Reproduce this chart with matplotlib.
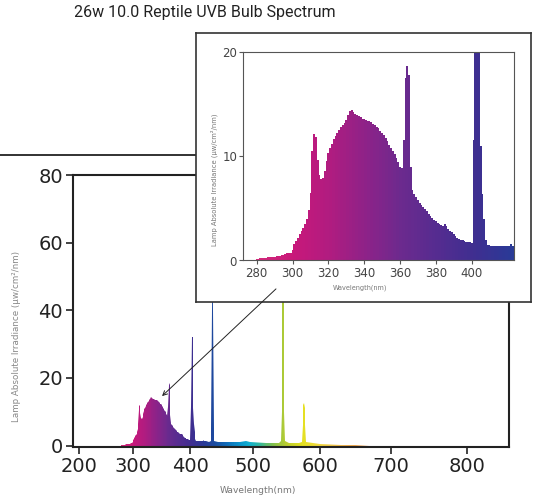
import numpy as np
import matplotlib
matplotlib.use("Agg")
import matplotlib.pyplot as plt
from matplotlib.colors import LinearSegmentedColormap, Normalize
from matplotlib.patches import FancyArrowPatch
from matplotlib.lines import Line2D

# ---------------- data ----------------
title = "26w 10.0 Reptile UVB Bulb Spectrum"
ylabel = "Lamp Absolute Irradiance (\u03bcw/cm\u00b2/nm)"
xlabel = "Wavelength(nm)"

# UV region, 1 nm resolution
uv_wl = list(range(279, 425))
uv_val = [
    0.05, 0.1, 0.15, 0.2, 0.22, 0.25, 0.27, 0.3, 0.32, 0.34,        # 279-288
    0.36, 0.38, 0.4, 0.42, 0.45, 0.5, 0.55, 0.6, 0.75, 0.7,          # 289-298
    0.75, 1.0, 1.6, 1.9, 2.2, 2.5, 2.8, 3.1, 3.5, 4.0,               # 299-308
    4.8, 6.5, 10.5, 12.1, 11.8, 9.6, 8.2, 7.8, 7.9, 8.6,             # 309-318
    9.5, 10.3, 10.8, 11.2, 11.6, 11.9, 12.2, 12.5, 12.8, 13.0,       # 319-328
    13.2, 13.5, 13.9, 14.3, 14.4, 14.2, 14.0, 13.9, 13.8, 13.7,      # 329-338
    13.6, 13.6, 13.5, 13.4, 13.4, 13.3, 13.1, 13.0, 12.8, 12.7,      # 339-348
    12.4, 12.2, 12.0, 11.7, 11.4, 11.1, 10.8, 10.5, 10.2, 9.8,       # 349-358
    9.4, 9.0, 8.9, 11.5, 17.5, 18.6, 17.8, 9.0, 6.8, 6.4,            # 359-368
    6.1, 5.8, 5.5, 5.3, 5.1, 4.9, 4.7, 4.5, 4.3, 4.1,                # 369-378
    3.9, 3.75, 3.6, 3.5, 3.4, 3.3, 3.5, 3.3, 3.0, 2.85,              # 379-388
    2.7, 2.5, 2.35, 2.2, 2.1, 2.0, 1.95, 1.85, 1.8, 1.75,            # 389-398
    1.75, 1.7, 11.5, 32.0, 32.0, 32.0, 11.0, 6.4, 4.0, 2.0,          # 399-408
    1.5, 1.45, 1.4, 1.4, 1.4, 1.4, 1.4, 1.4, 1.4, 1.4,               # 409-418
    1.4, 1.4, 1.4, 1.6, 1.4, 1.5,                                    # 419-424
]

# visible region
vis_wl = [425, 430, 433, 434, 435, 436, 437, 438, 439, 445, 460, 480, 490, 495,
          520, 540, 543, 544, 545, 546, 547, 548, 549, 555, 570, 574, 575, 576,
          577, 578, 579, 580, 600, 630, 650, 670]
vis_val = [1.4, 1.2, 1.4, 5.0, 40.0, 62.0, 40.0, 5.0, 1.4, 1.1, 1.0, 1.0, 1.3, 1.0,
           0.9, 0.9, 1.4, 10.0, 50.0, 58.0, 50.0, 10.0, 1.4, 0.8, 0.7, 1.2, 6.0, 12.0,
           12.5, 11.0, 6.0, 1.0, 0.5, 0.3, 0.15, 0.0]

main_yticks = [0, 20, 40, 60, 80]
main_xticks = [200, 300, 400, 500, 600, 700, 800]
inset_yticks = [0, 10, 20]
inset_xticks = [280, 300, 320, 340, 360, 380, 400]

# spectral colour stops (wavelength, colour)
stop_wl = [279, 300, 320, 340, 360, 380, 400, 420, 440, 460, 480, 495, 510, 530, 550, 575, 600, 640, 700]
stop_col = ['#d42a7c', '#c8187a', '#b01c80', '#8e2288', '#6c2a8e', '#552c90', '#402e90',
            '#2c3896', '#1a4ca0', '#0f6cb8', '#0a96cc', '#10b0d0', '#30b8a0', '#80c050',
            '#b8cc30', '#e4e020', '#f0d840', '#f0b050', '#e88040']

# ---------------- helpers ----------------
wmin, wmax = stop_wl[0], stop_wl[-1]
cmap = LinearSegmentedColormap.from_list(
    "spec", [((w - wmin) / (wmax - wmin), c) for w, c in zip(stop_wl, stop_col)])
norm = Normalize(wmin, wmax)


def gradient_fill(ax, x, y, step=None, top=70):
    poly = ax.fill_between(x, y, step=step, facecolor='none', edgecolor='none')
    edges = np.linspace(min(x) - 1, max(x) + 1, 900)
    centers = 0.5 * (edges[:-1] + edges[1:])
    mesh = ax.pcolormesh(edges, [0, top], centers[np.newaxis, :], cmap=cmap, norm=norm,
                         shading='flat')
    mesh.set_clip_path(poly.get_paths()[0], ax.transData)
    return mesh


K = 5.37e-4


def fwd(x):
    x = np.asarray(x, dtype=float)
    return x + K * x * x


def inv(y):
    y = np.asarray(y, dtype=float)
    return (-1 + np.sqrt(np.maximum(1 + 4 * K * y, 0))) / (2 * K)


W, H = 533, 498
fig = plt.figure(figsize=(W / 100, H / 100), dpi=100)
fig.patch.set_facecolor('white')


def fx(px):
    return px / W


def fy(py):
    return 1 - py / H


BOX_L, BOX_R, BOX_T, BOX_B = 195.5, 531, 33, 301.7

# ---------------- main axes ----------------
ax = fig.add_axes([fx(72.7), fy(447), fx(509) - fx(72.7), fy(175) - fy(447)])
ax.set_zorder(0)
ax.set_xscale('function', functions=(fwd, inv))
all_wl = uv_wl + vis_wl
all_val = uv_val + vis_val
gradient_fill(ax, all_wl, all_val, step=None, top=75)
ax.set_xlim(187, 853)
ax.set_ylim(-0.4, 80)
ax.set_xticks(main_xticks)
ax.set_xticklabels([str(t) for t in main_xticks])
ax.set_yticks(main_yticks)
ax.set_yticklabels([str(t) for t in main_yticks])
ax.xaxis.set_minor_locator(matplotlib.ticker.NullLocator())
for s in ax.spines.values():
    s.set_linewidth(1.5)
    s.set_color('#222222')
ax.tick_params(axis='both', which='major', direction='out', length=5, width=1.2,
               colors='#222222', labelsize=14, pad=2, labelfontfamily='DejaVu Sans')

# limit top/right spines to the part not hidden by the inset panel
to_data = ax.transData.inverted()
x_cut = to_data.transform((BOX_L, H - 175))[0]
y_cut = to_data.transform((509, H - BOX_B))[1]
ax.spines['top'].set_bounds(187, x_cut)
ax.spines['right'].set_bounds(-0.4, y_cut)

fig.text(fx(17), fy(336), ylabel, rotation=90, ha='center', va='center',
         fontsize=6.3, color='#888888', family='DejaVu Sans')
fig.text(fx(258), fy(490.5), xlabel, ha='center', va='center', fontsize=6.6,
         color='#777777', family='DejaVu Sans')

fig.text(fx(205), fy(12), title, ha='center', va='center', fontsize=11.5,
         family=['Roboto', 'DejaVu Sans'], color='#222222')

# stray horizontal rule at the left
rule = Line2D([0, fx(BOX_L)], [fy(155), fy(155)], transform=fig.transFigure,
              color='#222222', lw=1.3)
rule.set_zorder(0.5)
fig.add_artist(rule)

# ---------------- inset box (blank axes used as white framed panel) ----------------
bax = fig.add_axes([fx(BOX_L), fy(BOX_B), fx(BOX_R) - fx(BOX_L), fy(BOX_T) - fy(BOX_B)])
bax.set_zorder(1)
bax.set_facecolor('white')
bax.set_xticks([])
bax.set_yticks([])
for s in bax.spines.values():
    s.set_linewidth(1.2)
    s.set_color('#333333')

iax = fig.add_axes([fx(243.3), fy(260.5), fx(514.3) - fx(243.3), fy(51.7) - fy(260.5)])
iax.set_zorder(2)
gradient_fill(iax, uv_wl, uv_val, step='mid', top=40)
iax.set_xlim(272.5, 423.8)
iax.set_ylim(0, 20)
iax.set_xticks(inset_xticks)
iax.set_yticks(inset_yticks)
for s in iax.spines.values():
    s.set_linewidth(0.8)
    s.set_color('#555555')
iax.tick_params(axis='both', direction='out', length=3, width=0.8, colors='#555555',
                labelsize=8.5, labelcolor='#444444', pad=1.5, labelfontfamily='DejaVu Sans')

t1 = fig.text(fx(214), fy(180), ylabel, rotation=90, ha='center', va='center',
              fontsize=4.9, color='#777777', family='DejaVu Sans')
t2 = fig.text(fx(360), fy(287.5), xlabel, ha='center', va='center', fontsize=4.7,
              color='#777777', family='DejaVu Sans')
t1.set_zorder(3)
t2.set_zorder(3)

# ---------------- arrow ----------------
arrow = FancyArrowPatch((fx(278), fy(287)), (fx(160), fy(398)), transform=fig.transFigure,
                        arrowstyle='->', mutation_scale=8, lw=0.7, color='#222222')
arrow.set_zorder(5)
fig.add_artist(arrow)

fig.savefig("out.png", dpi=100, facecolor='white')
